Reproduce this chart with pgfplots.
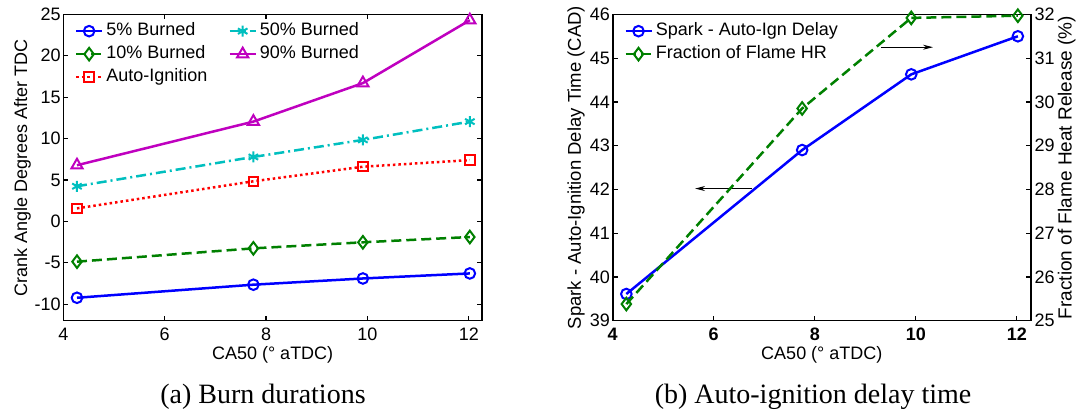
\documentclass[border=0pt]{standalone}
\usepackage{fontspec}
\setmainfont{Liberation Sans}
\newfontfamily\seriffont{Liberation Serif}
\usepackage{pgfplots}
\pgfplotsset{compat=1.18}
\usetikzlibrary{arrows.meta}

\definecolor{mblue}{rgb}{0,0,1}
\definecolor{mgreen}{rgb}{0,0.5,0}
\definecolor{mred}{rgb}{1,0,0}
\definecolor{mcyan}{rgb}{0,0.75,0.75}
\definecolor{mmag}{rgb}{0.75,0,0.75}

\newcommand{\lfont}{\fontsize{18}{20}\selectfont}

\pgfplotsset{
  myaxis/.style={
    scale only axis,
    clip=false,
    /pgf/number format/assume math mode=true,
    tick label style={font=\lfont},
    label style={font=\lfont},
    axis line style={line width=1.6pt},
    every tick/.style={line width=1.2pt, black},
    tick align=inside,
    major tick length=5pt,
    xticklabel style={inner sep=0pt, yshift=-7pt},
    yticklabel style={inner sep=0pt},
    legend cell align=left,
    legend style={font=\lfont, draw=none, fill=none,
      nodes={text height=13pt, text depth=4pt, inner sep=3pt}},
    legend image code/.code={\draw[mark repeat=2,mark phase=2] plot coordinates {(0pt,0pt) (13pt,0pt) (26pt,0pt)};},
  },
  pl/.style={line width=2.5pt},
  mk/.style={mark options={solid, fill=white, line width=2pt}},
}

\begin{document}
\begin{tikzpicture}[x=1pt,y=1pt]
\path[use as bounding box] (0,0) rectangle (1082,415);

% ---------------- (a) Burn durations ----------------
\begin{axis}[myaxis,
  at={(63.3pt,94.3pt)}, anchor=south west,
  width=418.7pt, height=306.3pt,
  xmin=4, xmax=12.26, ymin=-12, ymax=25,
  xtick={4,6,8,10,12}, ytick={-10,-5,0,5,10,15,20,25},
  yticklabel style={xshift=-2.5pt},
  xlabel={CA50 (° aTDC)},
  ylabel={Crank Angle Degrees After TDC},
  xlabel style={at={(axis description cs:0.5,0)}, anchor=base, yshift=-38.5pt},
  ylabel style={at={(axis description cs:-0.0865,0.5)}, anchor=base},
  legend columns=2,
  legend style={at={(0.02,0.99)}, anchor=north west,
    /tikz/every even column/.append style={column sep=18pt}},
]
\addplot[pl, mblue, solid, mark=o, mark size=5.3pt, mk]
  coordinates {(4.27,-9.23) (7.75,-7.65) (9.91,-6.90) (12.02,-6.29)};
\addlegendentry{5\% Burned}
\addplot[pl, mcyan, dash pattern=on 10pt off 4pt on 2pt off 4pt, mark=asterisk, mark size=5.5pt, mark options={solid, line width=2pt}]
  coordinates {(4.27,4.24) (7.75,7.78) (9.91,9.84) (12.02,12.05)};
\addlegendentry{50\% Burned}
\addplot[pl, mgreen, dash pattern=on 10pt off 5pt, mark=diamond, mark size=6.3pt, mk]
  coordinates {(4.27,-4.87) (7.75,-3.26) (9.91,-2.53) (12.02,-1.89)};
\addlegendentry{10\% Burned}
\addplot[pl, mmag, solid, mark=triangle, mark size=6.5pt, mk]
  coordinates {(4.27,6.78) (7.75,12.05) (9.91,16.70) (12.02,24.30)};
\addlegendentry{90\% Burned}
\addplot[pl, mred, dash pattern=on 2.5pt off 3pt, mark=square, mark size=4.7pt, mk]
  coordinates {(4.27,1.57) (7.75,4.84) (9.91,6.60) (12.02,7.40)};
\addlegendentry{Auto-Ignition}
\end{axis}

% ---------------- (b) Auto-ignition delay time ----------------
\begin{axis}[myaxis,
  at={(612.7pt,94.3pt)}, anchor=south west,
  width=418.3pt, height=306.3pt,
  xmin=4, xmax=12.28, ymin=39, ymax=46,
  xtick={4,6,8,10,12}, ytick={39,40,41,42,43,44,45,46},
  xtick pos=bottom, ytick pos=left,
  xticklabel style={font=\lfont\bfseries},
  yticklabel style={xshift=-2.7pt},
  xlabel={CA50 (° aTDC)},
  ylabel={Spark - Auto-Ignition Delay Time (CAD)},
  xlabel style={at={(axis description cs:0.5,0)}, anchor=base, yshift=-38.5pt},
  ylabel style={at={(axis description cs:-0.0758,0.5)}, anchor=base, font=\fontsize{18.5}{20}\selectfont},
  legend style={at={(0.02,0.99)}, anchor=north west},
]
\addplot[pl, mblue, solid, mark=o, mark size=5.3pt, mk]
  coordinates {(4.27,39.61) (7.75,42.90) (9.91,44.63) (12.02,45.50)};
\addlegendentry{Spark - Auto-Ign Delay}
\addlegendimage{pl, mgreen, dash pattern=on 10pt off 5pt, mark=diamond, mark size=6.3pt, mk}
\addlegendentry{Fraction of Flame HR}
\draw[-{Stealth[length=10pt,width=5pt]}, line width=0.9pt] (axis cs:6.75,42.02) -- (axis cs:5.63,42.02);
\draw[-{Stealth[length=10pt,width=5pt]}, line width=0.9pt] (axis cs:9.32,45.25) -- (axis cs:10.34,45.25);
\end{axis}

\begin{axis}[myaxis,
  at={(612.7pt,94.3pt)}, anchor=south west,
  width=418.3pt, height=306.3pt,
  xmin=4, xmax=12.28, ymin=25, ymax=32,
  axis x line=none, axis y line*=right,
  ytick={25,26,27,28,29,30,31,32},
  yticklabel style={xshift=3.3pt},
  ylabel={Fraction of Flame Heat Release (\%)},
  ylabel style={at={(axis description cs:1.097,0.5)}, anchor=base, font=\fontsize{19}{21}\selectfont},
]
\addplot[pl, mgreen, dash pattern=on 10pt off 5pt, mark=diamond, mark size=6.3pt, mk]
  coordinates {(4.27,25.38) (7.75,29.85) (9.91,31.92) (12.02,31.97)};
\end{axis}

\node[font=\seriffont\fontsize{28}{30}\selectfont, anchor=base] at (263,11) {(a) Burn durations};
\node[font=\seriffont\fontsize{28}{30}\selectfont, anchor=base] at (813,11) {(b) Auto-ignition delay time};
\end{tikzpicture}
\end{document}
